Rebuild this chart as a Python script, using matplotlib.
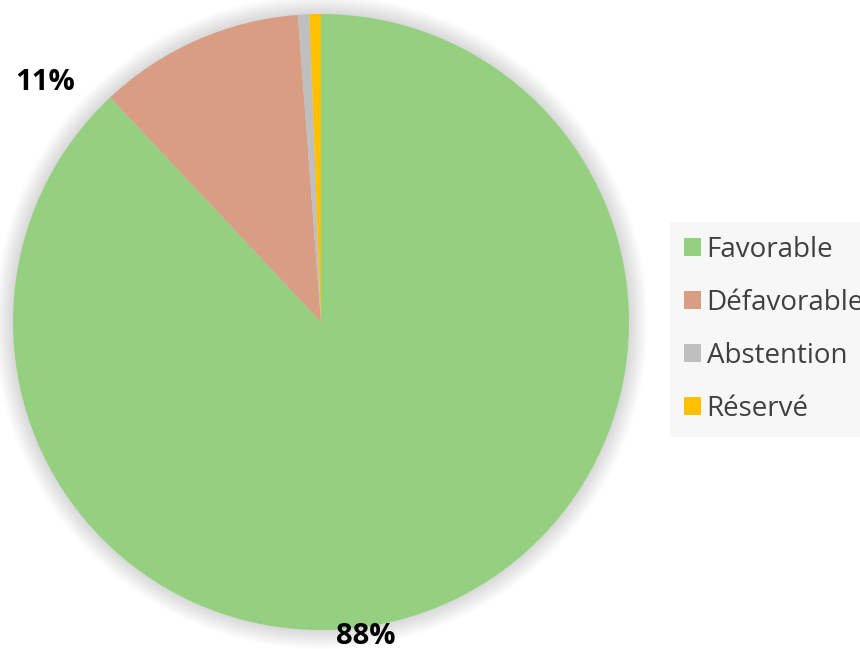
import matplotlib
matplotlib.use("Agg")
import matplotlib.pyplot as plt
from matplotlib.patches import Patch, Circle

categories = ["Favorable", "Défavorable", "Abstention", "Réservé"]
values = [88.0, 10.8, 0.6, 0.6]
colors = ["#94D080", "#D89D83", "#BFBFBF", "#FFC000"]
shown_labels = ["88%", "11%", "", ""]

W, H = 860, 649
fig = plt.figure(figsize=(W / 100, H / 100), dpi=100)
ax = fig.add_axes([0, 0, 1, 1])
ax.set_xlim(0, W)
ax.set_ylim(0, H)
ax.set_aspect("equal")
ax.axis("off")

cx, cy, R = 321, H - 322, 308

# soft shadow / glow
for k in range(1, 20):
    ax.add_patch(Circle((cx, cy), R + k, color="black", alpha=0.007, lw=0, zorder=0))

wedges, _ = ax.pie(values, colors=colors, startangle=90, counterclock=False,
                   center=(cx, cy), radius=R, frame=True,
                   wedgeprops=dict(linewidth=0))
ax.set_xlim(0, W)
ax.set_ylim(0, H)
ax.axis("off")

ax.text(45, H - 83, shown_labels[1], ha="center", va="center", fontsize=21,
        fontweight="bold", family="Open Sans", color="black")
ax.text(366, H - 636, shown_labels[0], ha="center", va="center", fontsize=21,
        fontweight="bold", family="Open Sans", color="black")

handles = [Patch(facecolor=c, edgecolor="none") for c in colors]
leg = fig.legend(handles, categories, loc="upper left",
                 bbox_to_anchor=(670 / W, 1 - 222 / H),
                 frameon=True, fancybox=False, facecolor="#f7f7f7",
                 edgecolor="none", framealpha=1,
                 prop=dict(family="Open Sans", size=20),
                 handlelength=0.6, handleheight=0.6, handletextpad=0.22,
                 labelspacing=0.9, borderpad=0.5, borderaxespad=0)
for t in leg.get_texts():
    t.set_color("#404040")

fig.savefig("out.png", dpi=100)
